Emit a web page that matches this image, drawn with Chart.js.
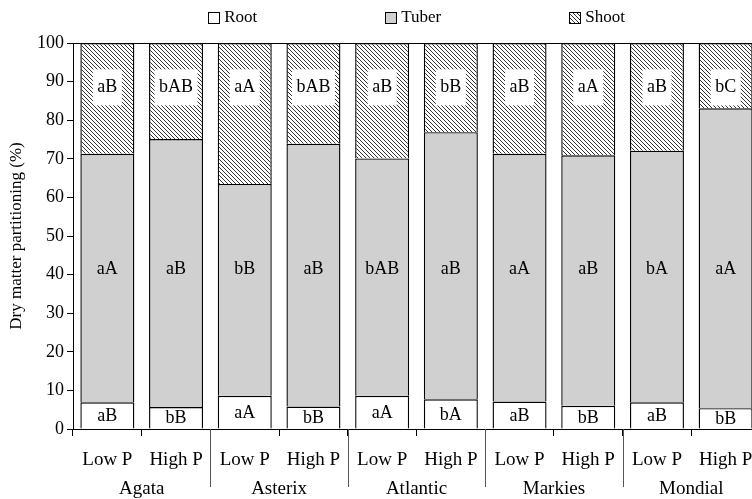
<!DOCTYPE html>
<html>
<head>
<meta charset="utf-8">
<script src="https://cdn.jsdelivr.net/npm/chart.js@4.4.4/dist/chart.umd.min.js"></script>
<style>
  html, body { margin: 0; padding: 0; background: #fff; overflow: hidden; }
  #wrap { width: 768px; height: 499px; }
</style>
</head>
<body>
<div id="wrap"><canvas id="chart"></canvas></div>
<script>
// Dry matter partitioning per cultivar and P level
const cultivars = ['Agata', 'Asterix', 'Atlantic', 'Markies', 'Mondial'];
const treatments = ['Low P', 'High P', 'Low P', 'High P', 'Low P', 'High P', 'Low P', 'High P', 'Low P', 'High P'];
const yTicks = [0, 10, 20, 30, 40, 50, 60, 70, 80, 90, 100];

const rootValues = [6.9, 5.7, 8.6, 5.8, 8.6, 7.7, 7.1, 6.0, 6.9, 5.4];
const tuberValues = [64.4, 69.4, 54.9, 68.1, 61.5, 69.2, 64.2, 64.9, 65.2, 77.7];
const shootValues = [28.7, 24.9, 36.5, 26.1, 29.9, 23.1, 28.7, 29.1, 27.9, 16.9];

const rootLetters = ['aB', 'bB', 'aA', 'bB', 'aA', 'bA', 'aB', 'bB', 'aB', 'bB'];
const tuberLetters = ['aA', 'aB', 'bB', 'aB', 'bAB', 'aB', 'aA', 'aB', 'bA', 'aA'];
const shootLetters = ['aB', 'bAB', 'aA', 'bAB', 'aB', 'bB', 'aB', 'aA', 'aB', 'bC'];

const FONT = '"Liberation Serif", "Times New Roman", serif';
const TUBER_GRAY = '#d0d0d0';

function hatchPattern() {
  const c = document.createElement('canvas');
  c.width = 4; c.height = 4;
  const p = c.getContext('2d');
  p.fillStyle = '#fff';
  p.fillRect(0, 0, 4, 4);
  p.strokeStyle = '#333';
  p.lineWidth = 1;
  p.beginPath();
  p.moveTo(-1, -1); p.lineTo(5, 5);
  p.moveTo(-1, 3); p.lineTo(1, 5);
  p.moveTo(3, -1); p.lineTo(5, 1);
  p.stroke();
  return p.createPattern(c, 'repeat');
}
const HATCH = hatchPattern();

// letters inside the bars; shoot letters sit on a white box over the hatching
const letterPlugin = {
  id: 'letters',
  afterDatasetsDraw(chart) {
    const { ctx } = chart;
    const y = chart.scales.y;
    ctx.save();
    ctx.font = '18px ' + FONT;
    ctx.textAlign = 'center';
    ctx.textBaseline = 'middle';
    ctx.fillStyle = '#000';
    const rootMeta = chart.getDatasetMeta(0).data;
    rootMeta.forEach((bar, i) => {
      ctx.fillText(rootLetters[i], bar.x, (bar.y + bar.base) / 2 + 1);
      ctx.fillText(tuberLetters[i], bar.x, y.getPixelForValue(41.5));
      const sy = y.getPixelForValue(88.5);
      const w = ctx.measureText(shootLetters[i]).width + 9;
      ctx.fillStyle = '#fff';
      ctx.fillRect(bar.x - w / 2, sy - 18, w, 36);
      ctx.fillStyle = '#000';
      ctx.fillText(shootLetters[i], bar.x, sy);
    });
    ctx.restore();
  }
};

// cultivar names under each pair + long separators between the groups
const groupPlugin = {
  id: 'groups',
  afterDraw(chart) {
    const { ctx, chartArea } = chart;
    const x = chart.scales.x;
    ctx.save();
    ctx.font = '19px ' + FONT;
    ctx.textAlign = 'center';
    ctx.textBaseline = 'middle';
    ctx.fillStyle = '#000';
    cultivars.forEach((name, g) => {
      const cx = (x.getPixelForValue(2 * g) + x.getPixelForValue(2 * g + 1)) / 2;
      ctx.fillText(name, cx, 489);
      if (g < cultivars.length - 1) {
        const sx = Math.round((x.getPixelForValue(2 * g + 1) + x.getPixelForValue(2 * g + 2)) / 2) + 0.5;
        ctx.strokeStyle = '#555';
        ctx.lineWidth = 1;
        ctx.beginPath();
        ctx.moveTo(sx, chartArea.bottom);
        ctx.lineTo(sx, 487);
        ctx.stroke();
      }
    });
    ctx.restore();
  }
};

// top legend, laid out over the plot area
const legendPlugin = {
  id: 'topLegend',
  afterDraw(chart) {
    const { ctx, chartArea } = chart;
    const gap = 128, box = 11, textGap = 5, cy = 17;
    ctx.save();
    ctx.font = '17px ' + FONT;
    ctx.textBaseline = 'middle';
    const items = chart.data.datasets.map(ds => ({
      text: ds.label, fill: ds.backgroundColor,
      w: box + textGap + ctx.measureText(ds.label).width
    }));
    const total = items.reduce((s, it) => s + it.w, 0) + gap * (items.length - 1);
    let cx = (chartArea.left + chartArea.right) / 2 - total / 2;
    items.forEach(it => {
      const bx = Math.round(cx) + 0.5, by = Math.round(cy - box / 2) + 0.5;
      ctx.fillStyle = it.fill;
      ctx.fillRect(bx, by, box, box);
      ctx.strokeStyle = '#000';
      ctx.lineWidth = 1;
      ctx.strokeRect(bx, by, box, box);
      ctx.fillStyle = '#000';
      ctx.fillText(it.text, cx + box + textGap, cy + 1);
      cx += it.w + gap;
    });
    ctx.restore();
  }
};

const barStyle = { borderColor: '#000', borderWidth: 1.4, borderSkipped: 'start', barPercentage: 0.786, categoryPercentage: 1 };

new Chart(document.getElementById('chart'), {
  type: 'bar',
  data: {
    labels: treatments,
    datasets: [
      { label: 'Root', data: rootValues, backgroundColor: '#fff', ...barStyle },
      { label: 'Tuber', data: tuberValues, backgroundColor: TUBER_GRAY, ...barStyle },
      { label: 'Shoot', data: shootValues, backgroundColor: HATCH, ...barStyle }
    ]
  },
  options: {
    responsive: true,
    maintainAspectRatio: false,
    animation: false,
    layout: { padding: { top: 43, right: 8, bottom: 0, left: 0 } },
    plugins: { legend: { display: false }, tooltip: { enabled: false } },
    scales: {
      x: {
        stacked: true,
        afterFit(scale) { scale.height = 70; },
        border: { color: '#000', width: 1 },
        grid: { drawOnChartArea: false, offset: true, tickLength: 7, tickColor: '#000' },
        ticks: { color: '#000', font: { family: FONT, size: 19 }, padding: 13, maxRotation: 0, autoSkip: false }
      },
      y: {
        stacked: true,
        min: 0,
        max: 100,
        afterFit(scale) { scale.width = 73; },
        afterBuildTicks(scale) { scale.ticks = yTicks.map(v => ({ value: v })); },
        border: { color: '#000', width: 1 },
        grid: {
          color: c => (c.tick && c.tick.value === 100 ? '#000' : 'rgba(0,0,0,0)'),
          tickColor: '#000',
          tickLength: 6
        },
        ticks: { color: '#000', font: { family: FONT, size: 18 }, padding: 3 },
        title: {
          display: true,
          text: 'Dry matter partitioning (%)',
          color: '#000',
          font: { family: FONT, size: 17 },
          padding: { top: 6, bottom: 0 }
        }
      }
    }
  },
  plugins: [letterPlugin, groupPlugin, legendPlugin]
});
</script>
</body>
</html>
